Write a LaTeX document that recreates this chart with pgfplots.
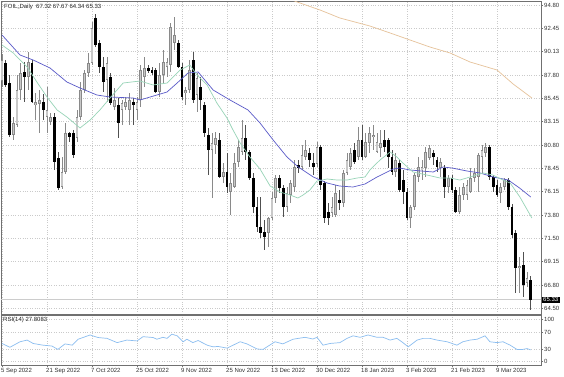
\documentclass[border=0pt]{standalone}
\usepackage{pgfplots}
\pgfplotsset{compat=1.18}
\usepackage{pgfplotstable}
\usepackage{fontspec}
\setmainfont{Liberation Sans}
\definecolor{gridc}{HTML}{CACACA}
\definecolor{maBlue}{HTML}{5A5AC8}
\definecolor{maGreen}{HTML}{98D4B8}
\definecolor{maOrange}{HTML}{E6C29A}
\definecolor{rsiBlue}{HTML}{8CBEF0}
\definecolor{bullFill}{HTML}{C8C8C8}
\definecolor{bullEdge}{HTML}{8A8A8A}
\definecolor{bearWick}{HTML}{505050}
\definecolor{frameC}{HTML}{707070}

\tikzset{lbl/.style={font=\fontsize{6}{7}\selectfont}}
\pgfplotsset{
  candle/.style 2 args={draw=none, mark=none, forget plot,
    error bars/.cd, y dir=both, y explicit, error mark=none,
    error bar style={line width=#1, draw=#2, solid}},
}

\pgfplotstableread{
x o h l c b
0 87.2 89.9 86.6 89.3 1
1 89.0 89.3 86.6 86.8 0
2 87.0 87.8 81.6 81.8 0
3 81.8 83.6 81.3 83.0 1
4 82.8 87.8 82.6 86.3 1
5 86.3 89.0 85.3 88.0 1
6 88.1 89.1 85.1 87.6 0
7 87.6 90.1 86.3 89.1 1
8 89.0 89.3 85.0 85.1 0
9 84.8 86.0 83.3 85.1 1
10 84.9 86.3 82.0 85.3 1
11 85.1 85.9 83.3 84.3 0
12 83.6 86.6 82.0 84.3 1
13 83.1 84.0 82.8 83.6 1
14 83.6 84.0 78.3 79.1 0
15 79.5 80.1 76.3 76.5 0
16 76.6 79.6 76.4 78.1 1
17 78.1 83.0 77.9 82.0 1
18 82.0 82.1 81.1 81.6 0
19 82.0 82.3 79.5 79.8 0
20 81.5 84.3 81.1 83.6 1
21 83.6 87.1 83.3 86.3 1
22 86.3 88.3 86.0 88.0 1
23 88.0 90.0 87.6 89.0 1
24 89.0 93.1 88.8 92.5 1
25 93.5 93.9 90.6 90.8 0
26 91.0 91.3 88.0 88.6 0
27 88.6 89.6 86.1 87.1 0
28 87.3 89.6 85.1 89.0 1
29 87.6 88.0 84.8 85.0 0
30 84.6 86.5 84.3 85.3 1
31 84.8 85.5 81.5 83.0 0
32 84.3 85.3 82.8 85.0 1
33 84.6 85.6 84.3 85.1 1
34 84.3 86.0 82.8 85.3 1
35 85.1 85.5 82.8 84.8 0
36 84.3 85.6 83.3 85.1 1
37 85.3 88.8 84.6 88.3 1
38 87.6 89.6 86.6 88.5 1
39 88.5 88.8 88.0 88.2 0
40 88.3 88.6 87.8 88.0 0
41 88.3 88.5 86.0 86.1 0
42 86.1 89.0 85.6 87.8 1
43 87.8 90.3 87.0 89.1 1
44 88.6 89.5 87.6 89.1 1
45 88.8 93.0 88.1 92.6 1
46 91.0 93.6 90.3 91.8 1
47 91.0 91.3 88.5 88.6 0
48 88.6 89.0 85.3 85.6 0
49 86.0 86.6 84.8 86.3 1
50 86.3 89.3 86.0 88.3 1
51 89.3 90.1 85.0 85.3 0
52 85.8 88.0 84.1 87.5 1
53 86.6 87.6 84.3 85.3 0
54 84.8 85.1 81.6 82.0 0
55 81.8 82.5 77.8 80.3 0
56 80.3 82.0 75.5 81.0 1
57 80.8 82.1 79.9 81.5 1
58 81.3 82.0 77.5 77.6 0
59 77.6 79.0 77.0 78.1 1
60 78.1 80.0 76.0 76.6 0
61 76.1 78.0 73.8 77.0 1
62 76.6 80.0 76.5 79.0 1
63 79.1 81.3 78.6 80.6 1
64 80.1 83.3 79.8 81.5 1
65 81.5 82.8 79.3 80.1 0
66 80.1 80.3 77.3 77.5 0
67 77.5 78.0 74.0 74.6 0
68 74.6 75.6 72.1 72.6 0
69 72.6 75.6 71.5 72.0 0
70 72.1 73.3 70.3 71.6 0
71 72.0 73.6 70.6 73.5 1
72 73.5 76.1 73.3 75.5 1
73 75.5 77.8 75.0 77.5 1
74 77.5 77.8 76.0 76.5 0
75 76.5 76.8 73.6 74.6 0
76 74.6 76.6 74.1 76.0 1
77 75.8 77.3 75.0 77.0 1
78 76.6 79.3 76.1 78.6 1
79 78.8 79.3 78.0 78.5 0
80 78.6 80.8 78.3 79.8 1
81 79.6 81.3 79.3 80.3 1
82 80.0 80.5 78.6 79.3 0
83 79.0 80.0 77.8 78.6 0
84 78.9 81.1 78.6 80.6 1
85 80.6 80.8 76.3 76.8 0
86 77.0 77.2 73.0 73.5 0
87 74.1 75.0 72.8 73.5 0
88 74.0 75.6 73.6 74.6 1
89 73.8 76.8 73.6 76.0 1
90 75.3 76.3 74.3 75.0 0
91 75.0 78.3 74.6 78.0 1
92 78.0 80.0 77.8 79.3 1
93 78.6 80.5 78.3 80.0 1
94 80.3 81.0 78.9 79.1 0
95 79.6 82.6 79.3 81.3 1
96 81.3 82.8 79.3 79.6 0
97 79.6 82.0 79.5 81.1 1
98 81.0 82.6 80.0 82.0 1
99 81.6 82.8 80.3 81.8 1
100 80.1 82.0 80.0 81.1 1
101 80.5 82.3 79.6 81.0 1
102 81.3 82.3 80.1 80.6 0
103 81.3 81.5 78.5 79.6 0
104 79.6 80.3 77.8 78.1 0
105 78.1 80.0 77.6 79.3 1
106 79.0 79.3 76.1 76.3 0
107 77.3 78.3 74.9 76.1 0
108 76.1 76.5 73.3 73.5 0
109 73.5 74.8 72.5 74.6 1
110 74.6 78.0 74.3 77.8 1
111 77.6 79.6 77.1 78.6 1
112 78.3 79.3 77.3 78.6 1
113 78.5 80.6 77.6 80.1 1
114 79.5 80.8 79.3 80.5 1
115 80.0 80.3 78.8 79.6 0
116 79.3 79.6 78.1 78.6 0
117 78.5 79.5 77.6 79.1 1
118 78.5 78.8 75.5 76.6 0
119 76.6 77.8 76.0 77.5 1
120 77.5 77.8 76.0 76.3 0
121 76.3 76.6 74.0 74.1 0
122 74.1 76.6 73.9 75.8 1
123 75.8 77.0 75.3 76.6 1
124 75.8 77.3 75.3 76.8 1
125 76.1 78.5 76.0 77.5 1
126 77.5 78.5 77.1 78.0 1
127 77.6 80.0 76.1 79.8 1
128 79.6 80.8 78.0 80.3 1
129 80.0 81.0 79.6 80.6 1
130 80.6 80.8 77.3 77.6 0
131 77.6 77.8 76.1 76.6 0
132 76.8 77.3 75.6 75.8 0
133 76.0 77.0 75.0 76.6 1
134 76.6 77.5 76.3 77.3 1
135 77.3 77.5 74.3 74.6 0
136 74.6 74.9 71.5 71.8 0
137 72.0 72.3 66.0 68.5 0
138 68.5 69.6 66.0 68.7 1
139 68.8 70.1 65.6 66.8 0
140 67.0 68.1 66.6 67.5 1
141 67.32 67.67 64.34 65.33 0
}\candles

\begin{document}
\begin{tikzpicture}[x=1pt,y=1pt]
\useasboundingbox[fill=white] (0,0) rectangle (564,376);
% ---------------- main price panel ----------------
\begin{axis}[
  at={(1pt,62pt)}, anchor=south west,
  scale only axis, width=540pt, height=313pt,
  xmin=-0.27, xmax=143.73, ymin=63.9, ymax=95.2,
  axis line style={draw=frameC, line width=0.8pt},
  xtick={0,12,...,132}, xticklabels={},
  xmajorgrids, ymajorgrids,
  grid style={gridc, dotted, line width=0.6pt},
  ytick={94.80,92.45,90.13,87.80,85.45,83.15,80.80,78.45,76.15,73.80,71.50,69.15,66.80,64.50},
  yticklabels={94.80,92.45,90.13,87.80,85.45,83.15,80.80,78.45,76.15,73.80,71.50,69.15,66.80,64.50},
  yticklabel pos=right,
  ytick pos=right,
  xtick pos=bottom,
  tick align=outside,
  major tick length=2pt,
  tick style={frameC, line width=0.5pt},
  yticklabel style={lbl, anchor=west, inner xsep=1pt, text=black!80},
]
\addplot[gray!40, line width=0.5pt, forget plot] coordinates {(-1,65.33) (145,65.33)};
% wicks
\addplot[candle={0.8pt}{bullEdge}]
  table[x=x, y expr={(\thisrow{h}+\thisrow{l})/2}, y error expr={(\thisrow{h}-\thisrow{l})/2},
        restrict expr to domain={\thisrow{b}}{0.5:1.5}] {\candles};
\addplot[candle={0.8pt}{bearWick}]
  table[x=x, y expr={(\thisrow{h}+\thisrow{l})/2}, y error expr={(\thisrow{h}-\thisrow{l})/2},
        restrict expr to domain={\thisrow{b}}{-0.5:0.5}] {\candles};
% bull bodies
\addplot[candle={2.8pt}{bullEdge}]
  table[x=x, y expr={(\thisrow{o}+\thisrow{c})/2}, y error expr={max(abs(\thisrow{c}-\thisrow{o})/2,0.07)},
        restrict expr to domain={\thisrow{b}}{0.5:1.5}] {\candles};
\addplot[candle={1.4pt}{bullFill}]
  table[x=x, y expr={(\thisrow{o}+\thisrow{c})/2}, y error expr={max(abs(\thisrow{c}-\thisrow{o})/2-0.08,0.01)},
        restrict expr to domain={\thisrow{b}}{0.5:1.5}] {\candles};
% bear bodies
\addplot[candle={2.8pt}{black}]
  table[x=x, y expr={(\thisrow{o}+\thisrow{c})/2}, y error expr={max(abs(\thisrow{c}-\thisrow{o})/2,0.07)},
        restrict expr to domain={\thisrow{b}}{-0.5:0.5}] {\candles};
% moving averages
\addplot[maOrange, line width=0.7pt] coordinates {
(74,95.8) (78.7,95.1) (84.8,94.3) (90.1,93.5) (98.1,92.7) (103.5,92.0) (108.8,91.3) (114.1,90.6) (119.5,90.0) (124.8,89.1) (132,88.3) (136.3,86.9) (141.3,85.5)};
\addplot[maBlue, line width=0.7pt] coordinates {
(0,91.8) (4.8,89.8) (8.3,89.3) (12.8,88.5) (17.3,87.1) (20.8,86.5) (25.3,85.8) (28.8,85.6) (35,85.5) (36.8,85.3) (41.3,85.8) (44,86.1) (46.7,87.0) (49.6,88.0) (52.3,88.1) (56.3,86.3) (60.8,85.3) (65.6,84.3) (68.8,83.0) (72.3,81.3) (76,79.6) (79,78.6) (83,77.6) (86.7,77.0) (90,76.7) (93.6,76.6) (96.8,76.9) (100,77.6) (104.3,78.4) (106,78.5) (108.8,78.3) (115,78.1) (117.6,78.6) (120,78.5) (124,78.2) (127.5,78.0) (131,77.6) (135,77.3) (138,76.5) (141,75.6)};
\addplot[maGreen, line width=0.7pt] coordinates {
(0,90.8) (3,90.0) (6.7,88.6) (9.3,87.1) (12,85.6) (14.7,84.3) (17.3,83.6) (20.8,82.5) (23.5,83.3) (26.1,84.3) (28.8,85.5) (32.3,87.0) (36.8,87.2) (40.3,86.8) (44,87.0) (47.5,88.3) (50.1,88.8) (52,87.8) (54.7,86.8) (57.3,85.0) (60,83.5) (61.6,82.3) (63.5,81.0) (66.1,79.6) (68.8,78.4) (71.5,76.7) (74.1,76.1) (76.8,75.8) (78.9,75.5) (80.3,75.8) (82.1,76.3) (84,77.2) (86.7,77.4) (89.3,77.3) (92,77.3) (94.7,77.5) (96.8,77.6) (98.1,78.3) (100.8,79.3) (103.5,80.1) (105.3,79.6) (106.9,79.0) (109.6,78.1) (113.3,77.8) (116.8,77.5) (119.5,77.5) (122.1,77.3) (124.8,77.6) (128.3,78.0) (130.9,77.8) (133.6,77.3) (135.5,77.0) (138.1,75.6) (141.3,73.5)};
\coordinate (tag) at (axis cs:143.73,65.33);
\node[anchor=north west, lbl, inner sep=0pt, text=black!85] at (axis description cs:0,1) [xshift=3pt, yshift=-3pt] {FOIL,,Daily\ \ 67.32 67.67 64.34 65.33};
\end{axis}
\node[anchor=west, fill=black, text=white, lbl, inner xsep=1.5pt, inner ysep=1pt, xshift=0.5pt] at (tag) {65.33};
% ---------------- RSI panel ----------------
\begin{axis}[
  at={(1pt,11pt)}, anchor=south west,
  scale only axis, width=540pt, height=50pt,
  xmin=-0.27, xmax=143.73, ymin=-7.8, ymax=110.1,
  axis line style={draw=frameC, line width=0.8pt},
  xtick={0,12,...,132},
  xticklabels={5 Sep 2022,21 Sep 2022,7 Oct 2022,25 Oct 2022,9 Nov 2022,25 Nov 2022,13 Dec 2022,30 Dec 2022,18 Jan 2023,3 Feb 2023,21 Feb 2023,9 Mar 2023},
  xticklabel style={lbl, anchor=north west, inner xsep=0pt, inner ysep=1pt, xshift=-1pt, text=black!80},
  xmajorgrids, ymajorgrids,
  grid style={gridc, dotted, line width=0.6pt},
  ytick={0,30,70,100},
  yticklabels={0,30,70,100},
  yticklabel pos=right,
  ytick pos=right,
  xtick pos=bottom,
  tick align=outside,
  major tick length=2pt,
  tick style={frameC, line width=0.5pt},
  yticklabel style={lbl, anchor=west, inner xsep=1pt, text=black!80},
]
\addplot[rsiBlue, line width=0.7pt] coordinates {
(0,43) (2.1,34) (4.8,47) (6.7,51) (8.3,43) (10.9,39) (13.3,37) (14.9,29) (16.8,42) (18.7,39) (20.3,53) (23.5,63) (25.6,57) (28,55) (30.7,45) (33.3,51) (36,49) (37.6,59) (40.3,57) (41.3,53) (42.9,57.5) (44,55) (45.3,65) (46.7,61) (48.3,47) (49.3,53) (50.9,45) (52.3,50) (54.7,39) (56.3,35) (57.6,36) (60,32) (63.5,47) (65.3,42) (68,30) (69.6,29) (72.8,47) (74.9,42) (77.6,53) (80.8,57.5) (82.9,53.5) (84,57.5) (85.6,39) (87.5,43) (90.1,45) (92,55) (93.6,61) (95.5,57.5) (97.6,63) (100,57.5) (101.6,57.5) (103.5,51) (105.3,55) (106.9,45) (108.3,35) (110.7,51) (112.3,55) (114.1,55) (116,51) (118.7,47) (121.3,39) (122.9,47) (124.8,51) (126.7,53) (128.8,61) (130.1,47) (132,45) (133.6,47) (135.5,39) (137.3,29) (138.9,29) (140,31) (141,27.8)};
\node[anchor=north west, lbl, inner sep=0pt, text=black!85] at (axis description cs:0,1) [xshift=2pt, yshift=-2pt] {RSI(14) 27.8083};
\end{axis}
\end{tikzpicture}
\end{document}
